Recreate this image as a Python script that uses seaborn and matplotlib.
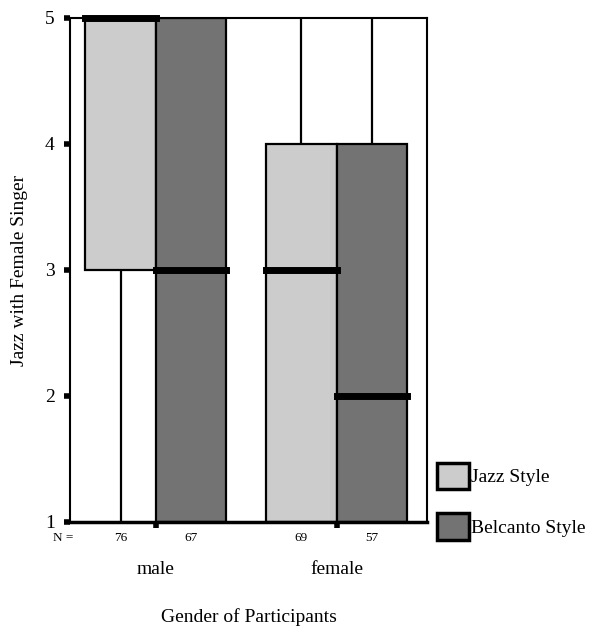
import numpy as np
import pandas as pd
import matplotlib
matplotlib.use("Agg")
import matplotlib.pyplot as plt
from matplotlib.patches import Patch
import matplotlib.transforms as mtransforms
import seaborn as sns

# ---- data (response counts for ratings 1..5, estimated from the box statistics) ----
genders = ["male", "female"]
styles = ["Jazz Style", "Belcanto Style"]
ratings = [1, 2, 3, 4, 5]
male_jazz_counts = [10, 6, 12, 8, 40]        # N = 76
male_belcanto_counts = [20, 8, 10, 6, 23]    # N = 67
female_jazz_counts = [18, 10, 15, 15, 11]    # N = 69
female_belcanto_counts = [16, 14, 8, 10, 9]  # N = 57
n_labels = {("male", "Jazz Style"): "76", ("male", "Belcanto Style"): "67",
            ("female", "Jazz Style"): "69", ("female", "Belcanto Style"): "57"}
colors = {"Jazz Style": "#cccccc", "Belcanto Style": "#737373"}

counts = {("male", "Jazz Style"): male_jazz_counts,
          ("male", "Belcanto Style"): male_belcanto_counts,
          ("female", "Jazz Style"): female_jazz_counts,
          ("female", "Belcanto Style"): female_belcanto_counts}
rows = []
for (g, s), c in counts.items():
    vals = np.repeat(ratings, c)
    rows.append(pd.DataFrame({"gender": g, "style": s, "rating": vals}))
df = pd.concat(rows, ignore_index=True)

plt.rcParams["font.family"] = ["Liberation Serif", "DejaVu Serif"]

fig = plt.figure(figsize=(5.93, 6.26), dpi=100)
ax = fig.add_axes([70 / 593, 1 - 522 / 626, (427 - 70) / 593, (522 - 18) / 626])

sns.boxplot(data=df, x="gender", y="rating", hue="style", order=genders,
            hue_order=styles, palette=colors, saturation=1, width=0.78, gap=0,
            linecolor="black", linewidth=1.6, showcaps=False, fliersize=0,
            whis=1.5, legend=False, ax=ax,
            medianprops=dict(linewidth=5, color="black", solid_capstyle="projecting"))
for ln in ax.lines:
    ln.set_clip_on(False)

ax.set_ylim(1, 5)
ax.set_xlim(-0.475, 1.5)
ax.set_yticks(ratings)
ax.set_yticklabels([str(r) for r in ratings], fontsize=14)
ax.set_xticks([0, 1])
ax.set_xticklabels(genders, fontsize=14)
ax.tick_params(axis="y", direction="out", length=4, width=4, pad=7, color="black")
ax.tick_params(axis="x", direction="out", length=4, width=4, pad=24, color="black")
for side in ["top", "right", "left"]:
    ax.spines[side].set_linewidth(1.5)
    ax.spines[side].set_color("black")
ax.spines["bottom"].set_linewidth(2.5)
ax.spines["bottom"].set_color("black")

ax.set_xlabel("Gender of Participants", fontsize=14, labelpad=22)
ax.set_ylabel("Jazz with Female Singer", fontsize=14, labelpad=12)

# N row
trans = mtransforms.blended_transform_factory(ax.transData, ax.transAxes)
offset = 0.195
for i, g in enumerate(genders):
    for j, s in enumerate(styles):
        x = i + (-offset if j == 0 else offset)
        ax.text(x, -0.032, n_labels[(g, s)], transform=trans, ha="center",
                va="center", fontsize=9.5, clip_on=False)
ax.text(-0.514, -0.032, "N =", transform=trans, ha="center", va="center",
        fontsize=9.5, clip_on=False)

handles = [Patch(facecolor=colors[s], edgecolor="black", linewidth=2.5, label=s)
           for s in styles]
fig.legend(handles=handles, loc="upper left", bbox_to_anchor=(433 / 593, 1 - 459 / 626),
           frameon=False, fontsize=14, handlelength=1.65, handleheight=1.7,
           labelspacing=1.25, handletextpad=0.1, borderaxespad=0, borderpad=0.2)

fig.savefig("out.png", dpi=100)
